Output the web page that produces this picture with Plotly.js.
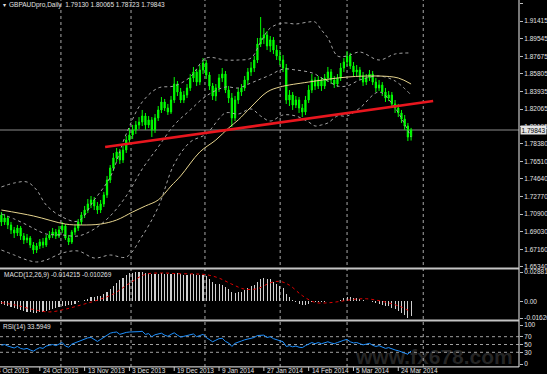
<!DOCTYPE html>
<html><head><meta charset="utf-8">
<script src="https://cdn.plot.ly/plotly-3.0.1.min.js"></script>
<style>html,body{margin:0;padding:0;background:#000;}#chart{width:547px;height:374px;}</style>
</head><body><div id="chart"></div>
<script>
// ---- price data (daily bars, GBPAUDpro) ----
const openP = [1.7081,1.7007,1.7049,1.6975,1.6922,1.6890,1.6943,1.6858,1.6816,1.6837,
1.6762,1.6709,1.6752,1.6794,1.6762,1.6837,1.6869,1.6900,1.6858,1.6922,
1.6964,1.6837,1.6794,1.6900,1.6943,1.7007,1.7081,1.7134,1.7198,1.7241,
1.7177,1.7134,1.7198,1.7294,1.7453,1.7581,1.7687,1.7751,1.7666,1.7772,
1.7878,1.7931,1.7984,1.8038,1.8069,1.8133,1.8038,1.8091,1.7984,1.8112,
1.8197,1.8282,1.8218,1.8176,1.8303,1.8473,1.8388,1.8303,1.8356,1.8431,
1.8537,1.8601,1.8494,1.8622,1.8696,1.8569,1.8452,1.8346,1.8431,1.8537,
1.8579,1.8409,1.8324,1.8112,1.8303,1.8388,1.8431,1.8516,1.8601,1.8643,
1.8728,1.8898,1.8962,1.8994,1.8877,1.8941,1.8834,1.8771,1.8728,1.8643,
1.8303,1.8356,1.8250,1.8303,1.8218,1.8176,1.8303,1.8409,1.8516,1.8452,
1.8516,1.8452,1.8537,1.8601,1.8516,1.8473,1.8537,1.8643,1.8707,1.8771,
1.8664,1.8601,1.8622,1.8558,1.8494,1.8537,1.8579,1.8494,1.8431,1.8462,
1.8388,1.8324,1.8356,1.8261,1.8218,1.8165,1.8101,1.8027,1.79130];
const highP = [1.7113,1.7092,1.7071,1.7007,1.6954,1.6975,1.6964,1.6890,1.6879,1.6858,
1.6794,1.6784,1.6826,1.6837,1.6869,1.6911,1.6943,1.6932,1.6964,1.7007,
1.6985,1.6869,1.6922,1.6975,1.7039,1.7113,1.7177,1.7251,1.7283,1.7272,
1.7219,1.7241,1.7326,1.7496,1.7612,1.7740,1.7793,1.7783,1.7814,1.7921,
1.8006,1.8038,1.8080,1.8122,1.8197,1.8165,1.8133,1.8122,1.8154,1.8239,
1.8335,1.8314,1.8261,1.8346,1.8547,1.8505,1.8431,1.8399,1.8473,1.8579,
1.8654,1.8632,1.8675,1.8749,1.8728,1.8601,1.8484,1.8473,1.8579,1.8643,
1.8611,1.8452,1.8377,1.8346,1.8431,1.8473,1.8558,1.8643,1.8707,1.8771,
1.8962,1.9185,1.9068,1.9036,1.8983,1.8972,1.8888,1.8834,1.8781,1.8686,
1.8409,1.8388,1.8346,1.8335,1.8261,1.8346,1.8462,1.8579,1.8547,1.8558,
1.8547,1.8579,1.8654,1.8632,1.8558,1.8579,1.8696,1.8749,1.8824,1.8803,
1.8707,1.8675,1.8654,1.8601,1.8579,1.8622,1.8611,1.8537,1.8516,1.8494,
1.8431,1.8399,1.8388,1.8303,1.8261,1.8197,1.8144,1.8059,1.80065];
const lowP = [1.6964,1.6975,1.6932,1.6879,1.6837,1.6858,1.6816,1.6773,1.6784,1.6730,
1.6667,1.6677,1.6720,1.6730,1.6741,1.6816,1.6837,1.6826,1.6837,1.6890,
1.6816,1.6762,1.6773,1.6869,1.6911,1.6975,1.7049,1.7102,1.7155,1.7134,
1.7092,1.7102,1.7166,1.7262,1.7421,1.7549,1.7645,1.7623,1.7634,1.7740,
1.7836,1.7889,1.7942,1.7995,1.8027,1.7984,1.8006,1.7910,1.7953,1.8080,
1.8165,1.8186,1.8144,1.8154,1.8271,1.8346,1.8271,1.8271,1.8324,1.8399,
1.8494,1.8452,1.8462,1.8579,1.8526,1.8409,1.8303,1.8292,1.8388,1.8494,
1.8377,1.8271,1.8016,1.8080,1.8261,1.8346,1.8399,1.8473,1.8558,1.8601,
1.8696,1.8866,1.8898,1.8834,1.8813,1.8792,1.8728,1.8675,1.8601,1.8261,
1.8239,1.8197,1.8218,1.8165,1.8122,1.8144,1.8271,1.8377,1.8409,1.8420,
1.8399,1.8420,1.8494,1.8473,1.8431,1.8441,1.8505,1.8601,1.8664,1.8632,
1.8558,1.8558,1.8516,1.8452,1.8462,1.8505,1.8462,1.8388,1.8399,1.8346,
1.8282,1.8292,1.8218,1.8165,1.8122,1.8059,1.7984,1.7867,1.78723];
const closeP = [1.7007,1.7049,1.6975,1.6922,1.6890,1.6943,1.6858,1.6816,1.6837,1.6762,
1.6709,1.6752,1.6794,1.6762,1.6837,1.6869,1.6900,1.6858,1.6922,1.6964,
1.6837,1.6794,1.6900,1.6943,1.7007,1.7081,1.7134,1.7198,1.7241,1.7177,
1.7134,1.7198,1.7294,1.7453,1.7581,1.7687,1.7751,1.7666,1.7772,1.7878,
1.7931,1.7984,1.8038,1.8069,1.8133,1.8038,1.8091,1.7984,1.8112,1.8197,
1.8282,1.8218,1.8176,1.8303,1.8473,1.8388,1.8303,1.8356,1.8431,1.8537,
1.8601,1.8494,1.8622,1.8696,1.8569,1.8452,1.8346,1.8431,1.8537,1.8579,
1.8409,1.8324,1.8112,1.8303,1.8388,1.8431,1.8516,1.8601,1.8643,1.8728,
1.8898,1.8962,1.8994,1.8877,1.8941,1.8834,1.8771,1.8728,1.8643,1.8303,
1.8356,1.8250,1.8303,1.8218,1.8176,1.8303,1.8409,1.8516,1.8452,1.8516,
1.8452,1.8537,1.8601,1.8516,1.8473,1.8537,1.8643,1.8707,1.8771,1.8664,
1.8601,1.8622,1.8558,1.8494,1.8537,1.8579,1.8494,1.8431,1.8462,1.8388,
1.8324,1.8356,1.8261,1.8218,1.8165,1.8101,1.8027,1.7910,1.79843];

// ---- moving average (yellow) ----
const maBars = [0,10,20,25,31,36,41,45,49,53,56,62,67,71,74,78,83,87,96,108,118,124,128];
const maValues = [1.7134,1.7071,1.6985,1.6975,1.6985,1.7028,1.7113,1.7177,1.7241,1.7389,1.7496,1.7751,1.7878,1.8006,1.8091,1.8229,1.8388,1.8441,1.8494,1.8547,1.8558,1.8537,1.8473];

// ---- Bollinger bands (dotted) ----
const bandBars = [0,4,8,11,14,19,24,29,34,39,44,49,54,59,64,70,74,78,81,84,88,92,96,98,100,102,105,108,112,118,123,128];
const bandUpper = [1.7379,1.7421,1.7432,1.7347,1.7187,1.7060,1.7017,1.7241,1.7485,1.7942,1.8282,1.8431,1.8452,1.8547,1.8749,1.8728,1.8728,1.8749,1.8919,1.9068,1.9121,1.9111,1.9132,1.9132,1.9047,1.8962,1.8771,1.8771,1.8813,1.8728,1.8792,1.8803];
const bandMiddle = [1.7092,1.7039,1.6975,1.6922,1.6879,1.6869,1.6858,1.6932,1.7071,1.7283,1.7570,1.7804,1.8038,1.8197,1.8346,1.8441,1.8431,1.8484,1.8526,1.8569,1.8632,1.8622,1.8601,1.8579,1.8537,1.8505,1.8452,1.8452,1.8516,1.8558,1.8505,1.8356];
const bandLower = [1.6709,1.6656,1.6603,1.6582,1.6603,1.6677,1.6699,1.6624,1.6656,1.6635,1.6858,1.7166,1.7623,1.7857,1.7942,1.8165,1.8154,1.8208,1.8133,1.8080,1.8144,1.8133,1.8069,1.8027,1.8038,1.8059,1.8133,1.8133,1.8218,1.8388,1.8218,1.7910];

// ---- trend line (red) ----
const trendBars = [32.4, 134.9];
const trendPrices = [1.7804, 1.8292];

// ---- MACD(12,26,9) ----
const macdMain = [-0.0021,-0.0031,-0.0041,-0.0051,-0.0062,-0.0072,-0.0082,-0.0092,-0.0103,-0.0108,
-0.0113,-0.0113,-0.0108,-0.0103,-0.0097,-0.0087,-0.0077,-0.0067,-0.0056,-0.0046,
-0.0041,-0.0036,-0.0031,-0.0021,-0.0010,0.0000,0.0010,0.0026,0.0041,0.0046,
0.0051,0.0056,0.0072,0.0092,0.0123,0.0154,0.0185,0.0205,0.0226,0.0256,
0.0277,0.0283,0.0285,0.02881,0.0287,0.0282,0.0279,0.0267,0.0267,0.0272,
0.0277,0.0272,0.0267,0.0272,0.0283,0.0280,0.0272,0.0261,0.0261,0.0267,
0.0272,0.0261,0.0256,0.0261,0.0246,0.0220,0.0190,0.0174,0.0169,0.0164,
0.0144,0.0123,0.0092,0.0087,0.0092,0.0097,0.0113,0.0133,0.0149,0.0164,
0.0195,0.0215,0.0231,0.0220,0.0215,0.0195,0.0174,0.0154,0.0128,0.0072,
0.0041,0.0010,-0.0005,-0.0021,-0.0036,-0.0036,-0.0026,-0.0010,-0.0005,-0.0005,
-0.0010,-0.0005,0.0005,0.0005,0.0000,0.0005,0.0015,0.0031,0.0041,0.0041,
0.0036,0.0031,0.0021,0.0010,0.0005,0.0005,-0.0005,-0.0015,-0.0021,-0.0031,
-0.0041,-0.0046,-0.0062,-0.0077,-0.0092,-0.0110,-0.0138,-0.0162,-0.014215];
const signalBars = [0,5,10,15,20,25,30,35,40,45,50,55,60,64,68,72,76,80,84,87,90,94,98,102,106,110,114,118,122,125,128];
const signalValues = [-0.0012,-0.0040,-0.0080,-0.0103,-0.0076,-0.0034,0.0012,0.0073,0.0177,0.0265,0.0278,0.0272,0.0269,0.0262,0.0228,0.0169,0.0120,0.0125,0.0182,0.0196,0.0159,0.0057,-0.0010,-0.0014,0.0001,0.0020,0.0026,0.0007,-0.0023,-0.0055,-0.010269];

// ---- RSI(14) ----
const rsiValues = [48,50,46,43,41,45,40,38,40,36,
33,38,42,40,46,48,50,47,52,55,
46,43,51,54,58,62,64,67,68,62,
58,63,68,75,79,81,82,76,79,81,
82,82,83,83,84,76,78,70,75,77,
79,74,71,76,80,74,69,71,73,76,
77,70,74,76,68,62,57,61,65,66,
58,54,45,53,57,59,62,64,66,68,
73,74,74,68,70,65,62,60,57,45,
47,44,46,43,42,47,51,55,52,55,
52,55,57,54,52,55,59,61,63,57,
54,55,52,49,51,53,48,45,47,43,
40,42,38,36,34,31,28,25,33.5949];

// ---- axis labels ----
const currentPrice = 1.79843;
const priceTicks = [1.93285,1.91415,1.89545,1.87675,1.85805,1.83935,1.82065,1.80195,1.78380,1.76510,1.74640,1.72770,1.70900,1.69030,1.67160,1.65340];
const macdTicks = [0.02881, 0, -0.01626];
const macdTickText = ['0.02881','0.00','-0.01626'];
const rsiTicks = [100,70,50,30,0];
const rsiLevels = [70,50,30];
const dateLabelBars = [12,26,40,54,68,82,96,110,124];
const dateLabels = ['24 Oct 2013','13 Nov 2013','3 Dec 2013','19 Dec 2013','9 Jan 2014','27 Jan 2014','14 Feb 2014','5 Mar 2014','24 Mar 2014'];
const firstDateLabel = '4 Oct 2013';
const monthStartBars = [18.6,40.5,63.6,87.1,108,131.8];

const bars = closeP.map((_, i) => i);
const FONT = 'Liberation Sans, Arial, sans-serif';
const TXT = '#e2e2e2';

const dotted = {color:'#a4a4a4', width:1, dash:'dot', shape:'spline'};
const traces = [
  {type:'candlestick', x:bars, open:openP, high:highP, low:lowP, close:closeP,
   increasing:{line:{color:'#00ff00', width:1}, fillcolor:'#00ff00'},
   decreasing:{line:{color:'#00ff00', width:1}, fillcolor:'#00ff00'},
   whiskerwidth:0, xaxis:'x', yaxis:'y', hoverinfo:'skip'},
  {type:'scatter', mode:'lines', x:bandBars, y:bandUpper, line:dotted, yaxis:'y', hoverinfo:'skip'},
  {type:'scatter', mode:'lines', x:bandBars, y:bandMiddle, line:dotted, yaxis:'y', hoverinfo:'skip'},
  {type:'scatter', mode:'lines', x:bandBars, y:bandLower, line:dotted, yaxis:'y', hoverinfo:'skip'},
  {type:'scatter', mode:'lines', x:maBars, y:maValues, line:{color:'#e6d48e', width:1, shape:'spline'}, yaxis:'y', hoverinfo:'skip'},
  {type:'scatter', mode:'lines', x:trendBars, y:trendPrices, line:{color:'#e8161e', width:2.6}, yaxis:'y', hoverinfo:'skip'},
  {type:'bar', x:bars, y:macdMain, width:0.34, marker:{color:'#cfcfcf', line:{width:0}}, yaxis:'y2', hoverinfo:'skip'},
  {type:'scatter', mode:'lines', x:signalBars, y:signalValues, line:{color:'#e00000', width:1, dash:'dot', shape:'spline'}, yaxis:'y2', hoverinfo:'skip'},
  {type:'scatter', mode:'lines', x:bars, y:rsiValues, line:{color:'#1e90ff', width:1}, yaxis:'y3', hoverinfo:'skip'}
];

const H = 367; // plot height in px
const py = px => (H - px) / H;   // px from top -> paper y
const axBase = {side:'right', anchor:'x', showgrid:false, zeroline:false, showline:false,
  ticks:'outside', ticklen:3, tickwidth:1, tickcolor:'#bdbdbd', tickfont:{family:FONT, size:6.5, color:TXT}, fixedrange:true};

const shapes = [];
monthStartBars.forEach(b => shapes.push({type:'line', xref:'x', yref:'paper', x0:b, x1:b, y0:0, y1:1,
  line:{color:'#a8a8a8', width:1, dash:'dot'}, layer:'below'}));
shapes.push({type:'line', xref:'paper', yref:'y', x0:0, x1:1, y0:currentPrice, y1:currentPrice, line:{color:'#8c8c8c', width:1}, layer:'below'});
rsiLevels.forEach(v => shapes.push({type:'line', xref:'paper', yref:'y3', x0:0, x1:1, y0:v, y1:v, line:{color:'#a0a0a0', width:1, dash:'dot'}, layer:'below'}));
[268.5, 320.5].forEach(p => shapes.push({type:'line', xref:'paper', yref:'paper', x0:0, x1:1, y0:py(p), y1:py(p), line:{color:'#c4c4c4', width:2}}));
shapes.push({type:'line', xref:'paper', yref:'paper', x0:0, x1:1, y0:py(366.8), y1:py(366.8), line:{color:'#c4c4c4', width:1.2}});
shapes.push({type:'line', xref:'paper', yref:'paper', x0:1, x1:1, y0:py(367), y1:1, line:{color:'#c8c8c8', width:1.2}});
dateLabelBars.forEach(b => shapes.push({type:'line', xref:'x', yref:'paper', x0:b, x1:b, y0:py(367), y1:py(371), line:{color:'#c8c8c8', width:1}}));

const annotations = [];
const small = {family:FONT, size:6.5, color:TXT};
annotations.push({xref:'paper', yref:'paper', x:1/519, y:py(4.5), xanchor:'left', yanchor:'middle', text:'▾', showarrow:false, font:{family:FONT, size:6, color:TXT}});
annotations.push({xref:'paper', yref:'paper', x:7/519, y:py(4.5), xanchor:'left', yanchor:'middle',
  text:'GBPAUDpro,Daily\u00a0\u00a0' + [openP[128], highP[128], lowP[128], closeP[128]].map(v => v.toFixed(5)).join(' '), showarrow:false, font:small});
annotations.push({xref:'paper', yref:'paper', x:2/519, y:py(275), xanchor:'left', yanchor:'middle',
  text:'MACD(12,26,9) ' + macdMain[128].toFixed(6) + ' ' + signalValues[signalValues.length-1].toFixed(6), showarrow:false, font:small});
annotations.push({xref:'paper', yref:'paper', x:1/519, y:py(326.5), xanchor:'left', yanchor:'middle',
  text:'RSI(14) ' + rsiValues[128].toFixed(4), showarrow:false, font:small});
dateLabelBars.forEach((b, k) => annotations.push({xref:'x', yref:'paper', x:b, y:py(370.6), xanchor:'left', yanchor:'middle', xshift:1,
  text:dateLabels[k], showarrow:false, font:small}));
annotations.push({xref:'paper', yref:'paper', x:-5/519, y:py(370.6), xanchor:'left', yanchor:'middle', text:firstDateLabel, showarrow:false, font:small});
annotations.push({xref:'paper', yref:'y', x:1, y:currentPrice, xanchor:'left', yanchor:'middle', xshift:1,
  text:currentPrice.toFixed(5), showarrow:false, bgcolor:'#e4e4e4', borderpad:0.5, font:{family:FONT, size:6.5, color:'#000'}});
annotations.push({xref:'paper', yref:'paper', x:434/519, y:py(356.5), xanchor:'center', yanchor:'middle', text:'<b>www.fx678.com</b>',
  showarrow:false, font:{family:FONT, size:21, color:'rgba(150,150,150,0.26)'}});

const layout = {
  width:547, height:374, margin:{l:0, r:28, t:0, b:7, pad:0},
  paper_bgcolor:'#000', plot_bgcolor:'#000', showlegend:false, boxgap:0.45,
  font:{family:FONT, size:6.5, color:TXT},
  xaxis:{range:[-0.4375, 161.72], showticklabels:false, showgrid:false, zeroline:false, showline:false, ticks:'',
    rangeslider:{visible:false}, anchor:'y3', fixedrange:true},
  yaxis:Object.assign({}, axBase, {domain:[py(268), 1], range:[1.65180, 1.93657], tickvals:priceTicks, tickformat:'.5f'}),
  yaxis2:Object.assign({}, axBase, {domain:[py(320), py(270)], range:[-0.01822, 0.03077], tickvals:macdTicks, ticktext:macdTickText}),
  yaxis3:Object.assign({}, axBase, {domain:[py(366), py(322)], range:[-5.13, 107.7], tickvals:rsiTicks, ticktext:rsiTicks.map(String)}),
  bargap:0, shapes:shapes, annotations:annotations, hovermode:false
};

Plotly.newPlot('chart', traces, layout, {staticPlot:true, displayModeBar:false});
</script>
</body></html>
